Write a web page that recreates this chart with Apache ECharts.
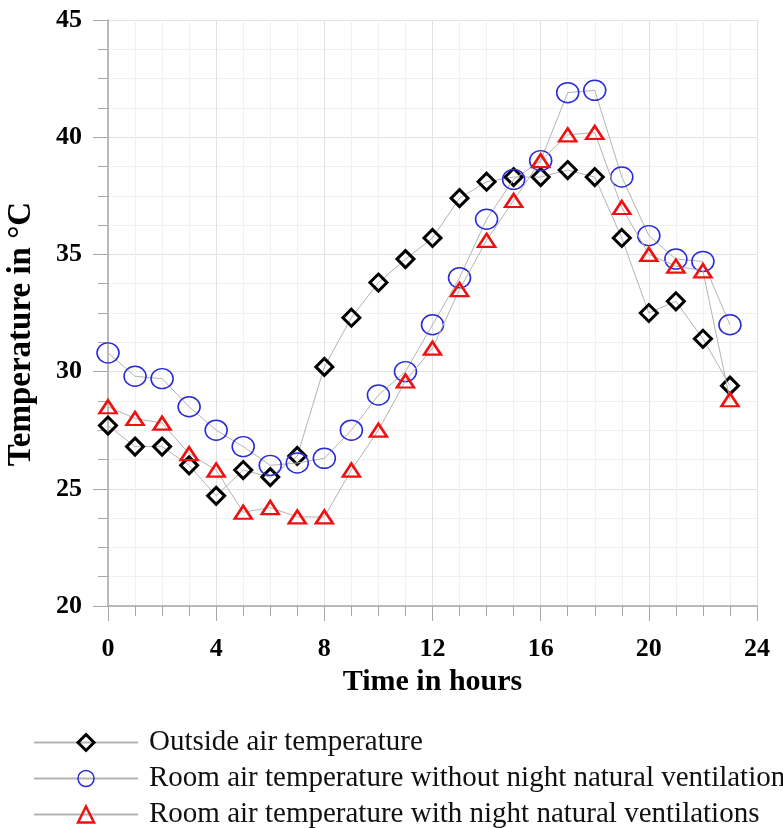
<!DOCTYPE html>
<html>
<head>
<meta charset="utf-8">
<script src="https://cdn.jsdelivr.net/npm/echarts@6.0.0/dist/echarts.min.js"></script>
<style>
  html, body { margin: 0; padding: 0; background: #fff; }
  #chart { width: 783px; height: 828px; }
</style>
</head>
<body>
<div id="chart"></div>
<script>
// hourly temperatures (°C)
const hours = [0, 1, 2, 3, 4, 5, 6, 7, 8, 9, 10, 11, 12, 13, 14, 15, 16, 17, 18, 19, 20, 21, 22, 23];
const outsideTemp = [27.7, 26.8, 26.8, 26.0, 24.7, 25.8, 25.5, 26.4, 30.2, 32.3, 33.8, 34.8,
                     35.7, 37.4, 38.1, 38.3, 38.3, 38.6, 38.3, 35.7, 32.5, 33.0, 31.4, 29.4];
const roomNoVent = [30.8, 29.8, 29.7, 28.5, 27.5, 26.8, 26.0, 26.1, 26.3, 27.5, 29.0, 30.0,
                    32.0, 34.0, 36.5, 38.2, 39.0, 41.9, 42.0, 38.3, 35.8, 34.8, 34.7, 32.0];
const roomWithVent = [28.5, 28.0, 27.8, 26.5, 25.8, 24.0, 24.2, 23.8, 23.8, 25.8, 27.5, 29.6,
                      31.0, 33.5, 35.6, 37.3, 39.0, 40.1, 40.2, 37.0, 35.0, 34.5, 34.3, 28.8];

const seriesNames = [
    'Outside air temperature',
    'Room air temperature without night natural ventilations',
    'Room air temperature with night natural ventilations'
];

const xRange = [0, 24];
const yRange = [20, 45];

const serif = '"Liberation Serif", "Times New Roman", serif';

const pairs = (ys) => hours.map((h, i) => [h, ys[i]]);

const chart = echarts.init(document.getElementById('chart'));

const axisCommon = {
    axisLine: { show: true, lineStyle: { color: '#a8a8a8', width: 1.5 } },
    axisTick: { show: true, inside: false, length: 15, lineStyle: { color: '#a8a8a8', width: 1 } },
    minorTick: { show: true, splitNumber: 4, length: 10, lineStyle: { color: '#a8a8a8', width: 1 } },
    splitLine: { show: true, lineStyle: { color: '#e2e2e2', width: 1 } },
    minorSplitLine: { show: true, lineStyle: { color: '#f1f1f1', width: 1 } },
    axisLabel: {
        color: '#000',
        fontFamily: serif,
        fontWeight: 'bold',
        fontSize: 26
    },
    nameTextStyle: {
        color: '#000',
        fontFamily: serif,
        fontWeight: 'bold'
    }
};

const markerStyles = [
    { color: 'rgba(255,255,255,0)', borderColor: '#000', borderWidth: 3 },
    { color: 'rgba(255,255,255,0)', borderColor: '#2a2ad8', borderWidth: 1.5 },
    { color: 'rgba(255,255,255,0)', borderColor: '#ee1111', borderWidth: 2.5 }
];

const option = {
    backgroundColor: '#fff',
    animation: false,
    grid: {
        left: 108,
        right: 26,
        top: 20,
        bottom: 222,
        outerBoundsMode: 'none'
    },
    xAxis: {
        ...axisCommon,
        type: 'value',
        min: xRange[0],
        max: xRange[1],
        interval: 4,
        name: 'Time in hours',
        nameLocation: 'middle',
        nameGap: 56,
        nameTextStyle: { ...axisCommon.nameTextStyle, fontSize: 30 },
        axisLabel: { ...axisCommon.axisLabel, margin: 30 }
    },
    yAxis: {
        ...axisCommon,
        type: 'value',
        min: yRange[0],
        max: yRange[1],
        interval: 5,
        name: 'Temperature in °C',
        nameLocation: 'middle',
        nameGap: 70,
        nameTextStyle: { ...axisCommon.nameTextStyle, fontSize: 33, padding: [0, 42, 0, 0] },
        axisLabel: { ...axisCommon.axisLabel, margin: 26 }
    },
    legend: {
        orient: 'vertical',
        left: 33,
        top: 728,
        height: 110,
        padding: 0,
        itemWidth: 104,
        itemHeight: 20,
        itemGap: 7,
        textStyle: {
            color: '#111',
            fontFamily: serif,
            fontSize: 29,
            padding: [0, 0, 0, 6]
        },
        data: seriesNames.map((name, i) => ({ name, itemStyle: markerStyles[i] }))
    },
    series: [
        {
            name: seriesNames[0],
            type: 'line',
            data: pairs(outsideTemp),
            symbol: 'diamond',
            symbolSize: 17,
            lineStyle: { color: '#b4b4b4', width: 1 },
            itemStyle: markerStyles[0],
            z: 2
        },
        {
            name: seriesNames[1],
            type: 'line',
            data: pairs(roomNoVent),
            symbol: 'circle',
            symbolSize: [22, 20],
            lineStyle: { color: '#b4b4b4', width: 1 },
            itemStyle: markerStyles[1],
            z: 3
        },
        {
            name: seriesNames[2],
            type: 'line',
            data: pairs(roomWithVent),
            symbol: 'triangle',
            symbolSize: [17, 13],
            lineStyle: { color: '#b4b4b4', width: 1 },
            itemStyle: markerStyles[2],
            z: 4
        }
    ]
};

chart.setOption(option);
</script>
</body>
</html>
